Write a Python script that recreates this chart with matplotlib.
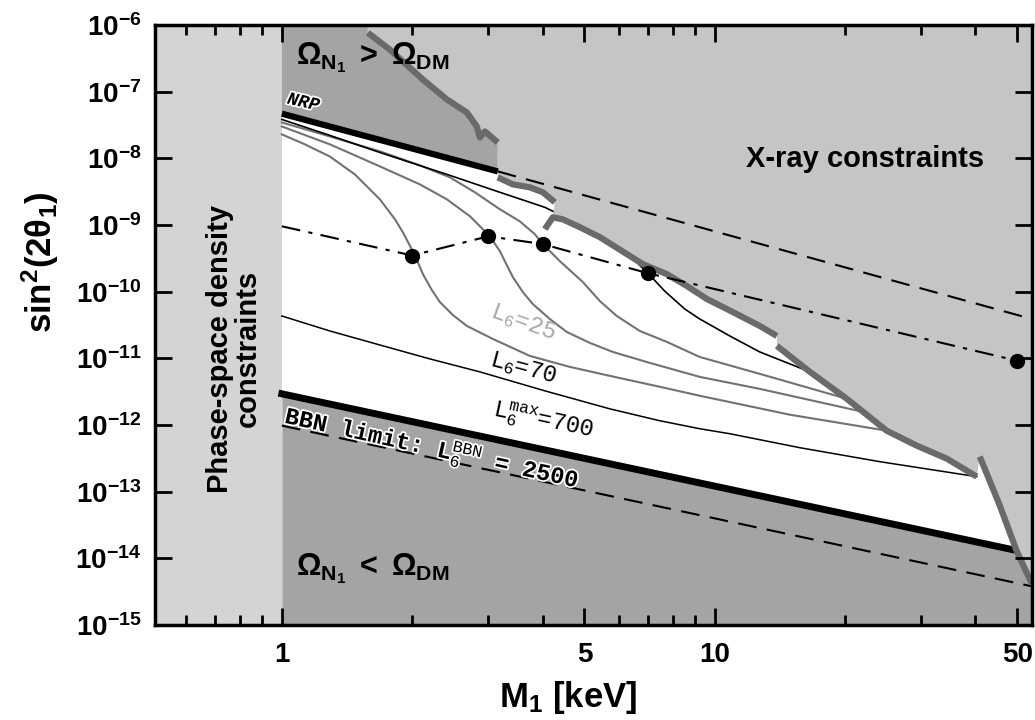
import matplotlib.pyplot as plt
import matplotlib.patheffects as pe
from matplotlib.ticker import FixedLocator, NullLocator, NullFormatter

plt.rcParams['font.family'] = ['Liberation Sans', 'DejaVu Sans']
plt.rcParams['mathtext.fontset'] = 'custom'
plt.rcParams['mathtext.rm'] = 'Liberation Sans'
plt.rcParams['mathtext.bf'] = 'Liberation Sans:bold'
plt.rcParams['mathtext.it'] = 'Liberation Sans:italic'
plt.rcParams['mathtext.tt'] = 'Liberation Mono'

# axis range
x_min, x_max = 0.51, 54.0
y_min, y_max = 1e-15, 1e-6

# NRP line (solid part, then dashed continuation)
nrp_x = [1.0, 3.153, 54.0]
nrp_y = [4.7e-8, 6.4e-9, 3.9e-11]

# L6max = 700 line (thick, lower edge of allowed region)
l6max_x = [1.0, 54.0]
l6max_y = [2.94e-12, 1.17e-14]

# BBN limit, L6 = 2500 (dashed)
bbn_x = [1.0, 54.0]
bbn_y = [9.8e-13, 3.8e-15]

# dash-dot line with dots
dd_x = [1.0, 2.0, 3.0, 4.0, 7.0, 50.0]
dd_y = [9.6e-10, 3.5e-10, 6.8e-10, 5.2e-10, 1.9e-10, 9.2e-12]

# L6 curves
c1_x = [1.0, 1.130, 1.291, 1.474, 1.684, 1.824, 1.903, 2.029, 2.117, 2.221, 2.317,
        2.483, 2.675, 3.071, 3.739, 4.625, 5.721, 7.465, 9.233, 14.90, 24.96]
c1_y = [2.30e-8, 1.63e-8, 1.07e-8, 5.78e-9, 2.44e-9, 1.23e-9, 7.83e-10, 3.54e-10,
        1.84e-10, 1.06e-10, 7.01e-11, 4.48e-11, 3.07e-11, 1.96e-11, 1.09e-11, 7.46e-12,
        5.47e-12, 3.75e-12, 2.75e-12, 1.43e-12, 8.22e-13]
c2_x = [1.0, 1.291, 1.684, 2.083, 2.405, 2.718, 3.022, 3.188, 3.308, 3.416, 3.602,
        3.799, 4.159, 4.552, 5.144, 5.813, 7.077, 9.233, 12.70, 21.97]
c2_y = [3.02e-8, 1.63e-8, 7.61e-9, 4.09e-9, 2.44e-9, 1.36e-9, 6.82e-10, 4.07e-10,
        2.51e-10, 1.66e-10, 9.9e-11, 6.54e-11, 3.90e-11, 2.49e-11, 1.71e-11, 1.25e-11,
        8.56e-12, 5.28e-12, 3.49e-12, 1.58e-12]
c3_x = [1.0, 1.291, 1.684, 2.083, 2.444, 2.791, 3.188, 3.545, 3.840, 4.007, 4.386,
        4.956, 5.425, 5.938, 6.712, 7.747, 9.233, 12.70, 20.17]
c3_y = [3.47e-8, 2.14e-8, 1.28e-8, 7.88e-9, 5.21e-9, 3.11e-9, 1.73e-9, 1.14e-9,
        7.31e-10, 5.18e-10, 2.88e-10, 1.40e-10, 7.26e-11, 4.33e-11, 2.58e-11, 1.77e-11,
        1.05e-11, 5.86e-12, 2.48e-12]
c4_x = [1.0, 1.291, 1.684, 2.444, 3.188, 4.050, 5.144, 6.034, 7.002, 7.665, 8.524,
        9.233, 10.83, 12.70, 16.58]
c4_y = [3.85e-8, 2.22e-8, 1.23e-8, 5.58e-9, 3.11e-9, 1.85e-9, 8.68e-10, 4.83e-10,
        1.91e-10, 1.02e-10, 5.51e-11, 3.90e-11, 2.17e-11, 1.25e-11, 6.28e-12]
c70_x = [1.0, 1.291, 1.684, 2.197, 2.866, 4.050, 5.721, 7.465, 9.233, 10.83, 15.72,
         24.05, 40.28]
c70_y = [4.33e-11, 2.58e-11, 1.59e-11, 9.83e-12, 6.28e-12, 3.26e-12, 1.75e-12,
         1.16e-12, 8.80e-13, 7.41e-13, 4.57e-13, 2.82e-13, 1.68e-13]

# X-ray constraint boundary, in pieces
xr1_x = [1.58, 1.776, 2.117, 2.405, 2.675, 2.82, 2.866, 2.943, 3.153]
xr1_y = [7.7e-7, 4.3e-7, 1.53e-7, 7.7e-8, 4.9e-8, 3.03e-8, 2.07e-8, 2.55e-8, 1.74e-8]
xr2_x = [3.153, 3.416, 3.738, 4.007, 4.271]
xr2_y = [5.2e-9, 4.09e-9, 3.69e-9, 3.11e-9, 2.2e-9]
xr3_x = [4.05, 4.225, 4.457, 4.879, 5.425, 6.82, 7.746, 8.617, 9.583, 11.0, 12.7, 13.91]
xr3_y = [8.7e-10, 1.31e-9, 1.22e-9, 9.3e-10, 6.6e-10, 2.6e-10, 1.84e-10, 1.22e-10,
         7.8e-11, 4.97e-11, 3.07e-11, 2.17e-11]
xr4_x = [13.91, 16.57, 20.17, 24.96, 29.28, 34.35, 40.28]
xr4_y = [1.54e-11, 6.3e-12, 2.48e-12, 8.2e-13, 4.9e-13, 3.13e-13, 1.68e-13]
xr5_x = [40.93, 45.52, 49.84, 53.96]
xr5_y = [3.36e-13, 6.2e-14, 1.27e-14, 4.2e-15]

y_ticks = [1e-15, 1e-14, 1e-13, 1e-12, 1e-11, 1e-10, 1e-9, 1e-8, 1e-7, 1e-6]
y_labels = [r'$\mathbf{10^{-%d}}$' % n for n in range(15, 5, -1)]
x_ticks = [1, 5, 10, 50]
x_labels = ['1', '5', '10', '50']
x_minor = [0.6, 0.7, 0.8, 0.9, 2, 3, 4, 6, 7, 8, 9, 20, 30, 40]

c_phase = '#d4d4d4'
c_xray = '#c5c5c5'
c_dark = '#a4a4a4'
c_bound = '#6a6a6a'
c_grey = '#727272'

fig = plt.figure(figsize=(10.35, 7.2), dpi=100)
ax = fig.add_axes([0.150, 0.132, 0.847, 0.833])
ax.set_xscale('log')
ax.set_yscale('log')
ax.set_xlim(x_min, x_max)
ax.set_ylim(y_min, y_max)

# shaded regions
ax.axvspan(x_min, 1.0, color=c_phase, lw=0, zorder=1)
top_x = [1.0, xr1_x[0]] + xr1_x + [nrp_x[1], 1.0]
top_y = [y_max, y_max] + xr1_y + [nrp_y[1], nrp_y[0]]
ax.fill(top_x, top_y, color=c_dark, lw=0, zorder=1)
ax.fill_between(l6max_x, l6max_y, y_min, color=c_dark, lw=0, zorder=1)

xr_x = [xr1_x[0]] + xr1_x + xr2_x + xr3_x[1:] + xr4_x + xr5_x + [x_max * 1.2, x_max * 1.2]
xr_y = [y_max] + xr1_y + xr2_y + xr3_y[1:] + xr4_y + xr5_y + [xr5_y[-1], y_max]
ax.fill(xr_x, xr_y, color=c_xray, lw=0, zorder=3)

# L6 curves
for cx, cy in [(c1_x, c1_y), (c2_x, c2_y), (c3_x, c3_y)]:
    ax.plot(cx, cy, color=c_grey, lw=1.5, zorder=2, solid_joinstyle='round')
ax.plot(c4_x, c4_y, color='black', lw=1.2, zorder=2, solid_joinstyle='round')
ax.plot(c70_x, c70_y, color='black', lw=1.1, zorder=2, solid_joinstyle='round')
ax.plot(l6max_x, l6max_y, color='black', lw=5, zorder=2.5)

# X-ray boundary
for bx, by in [(xr1_x, xr1_y), (xr2_x, xr2_y), (xr3_x, xr3_y), (xr4_x, xr4_y), (xr5_x, xr5_y)]:
    ax.plot(bx, by, color=c_bound, lw=4.5, zorder=4, solid_capstyle='butt',
            solid_joinstyle='round')

ax.plot(nrp_x[:2], nrp_y[:2], color='black', lw=4.5, zorder=4, solid_capstyle='butt')
ax.plot(nrp_x[1:], nrp_y[1:], color='black', lw=1.5, ls=(0, (9, 5)), zorder=5)
ax.plot(bbn_x, bbn_y, color='black', lw=1.5, ls=(0, (9, 5)), zorder=5)
ax.plot(dd_x, dd_y, color='black', lw=1.5, ls=(0, (9, 4, 2, 4)), zorder=5)
ax.plot(dd_x[1:], dd_y[1:], 'o', color='black', ms=10, zorder=6)

# axes styling
for s in ax.spines.values():
    s.set_linewidth(2.5)
    s.set_zorder(10)
ax.xaxis.set_zorder(10)
ax.yaxis.set_zorder(10)
ax.tick_params(which='both', direction='in', top=True, right=True, width=2)
ax.tick_params(which='major', length=12)
ax.tick_params(which='minor', length=7)
ax.tick_params(axis='y', pad=10)
ax.tick_params(axis='x', pad=12)
ax.xaxis.set_major_locator(FixedLocator(x_ticks))
ax.set_xticklabels(x_labels, fontsize=20, fontweight='bold')
ax.xaxis.set_minor_locator(FixedLocator(x_minor))
ax.xaxis.set_minor_formatter(NullFormatter())
ax.yaxis.set_major_locator(FixedLocator(y_ticks))
ax.set_yticklabels(y_labels, fontsize=20)
ax.yaxis.set_minor_locator(NullLocator())

fig.text(568 / 1035, 1 - 698 / 720, r'$\mathbf{M_1}$ [keV]', fontsize=25, fontweight='bold',
         ha='center', va='center')
fig.text(40 / 1035, 1 - 262 / 720, r'$\mathbf{sin^2(2\theta_1)}$', fontsize=25,
         rotation=90, ha='center', va='center')

# region labels
ax.text(0.775, 1.39e-11, 'Phase-space density\nconstraints', rotation=90, fontsize=21,
        fontweight='bold', ha='center', va='center', linespacing=0.95, zorder=7)
ax.text(22.2, 9.7e-9, 'X-ray constraints', fontsize=21, fontweight='bold',
        ha='center', va='center', zorder=7)
ax.text(1.08, 3.3e-7, r'$\mathbf{\Omega_{N_1}\ >\ \Omega_{DM}}$', fontsize=22,
        ha='left', va='center', zorder=7)
ax.text(1.08, 7.1e-15, r'$\mathbf{\Omega_{N_1}\ <\ \Omega_{DM}}$', fontsize=22,
        ha='left', va='center', zorder=7)

mono = 'Liberation Mono'
halo = [pe.withStroke(linewidth=2.5, foreground='white')]
ax.text(1.02, 6.9e-8, 'NRP', fontsize=13, family=mono, style='italic',
        fontweight='bold', rotation=-13, ha='left', va='center', zorder=7, path_effects=halo)
ax.text(3.6, 3.5e-11, r'L$\mathtt{_6}$=25', fontsize=17, family=mono, color='#a8a8a8',
        rotation=-20, ha='center', va='center', zorder=7)
ax.text(3.6, 7.0e-12, r'L$\mathtt{_6}$=70', fontsize=17, family=mono, rotation=-15,
        ha='center', va='center', zorder=7)
ax.text(4.0, 1.16e-12, r'L$\mathtt{_6^{max}}$=700', fontsize=17, family=mono,
        rotation=-12, ha='center', va='center', zorder=7)
ax.text(1.01, 1.08e-12, r'BBN limit: L$\mathtt{_6^{BBN}}$ = 2500', fontsize=17,
        family=mono, fontweight='bold', rotation=-12.5, rotation_mode='anchor',
        ha='left', va='baseline', zorder=7, path_effects=halo)

fig.savefig('out.png', dpi=100)
